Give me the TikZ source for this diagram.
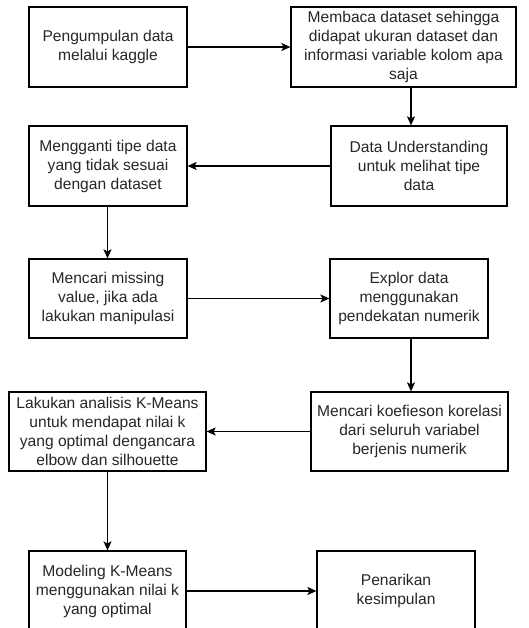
\documentclass[tikz,border=0pt]{standalone}
\usepackage{fontspec}
\setmainfont{Liberation Sans}
\usetikzlibrary{arrows.meta}
\begin{document}
\begin{tikzpicture}[x=1pt,y=-1pt,
  box/.style={draw=black, line width=1.2pt, rectangle, align=center, inner sep=0pt,
    font=\fontsize{15.6}{19}\selectfont, text=black!85},
  flow/.style={draw=black, line width=1.2pt, -{Stealth[length=9pt,width=8pt,inset=2pt]}}]
\path[use as bounding box, clip] (0,0) rectangle (529,628);
\node[box, minimum width=158pt, minimum height=80pt] (b1) at (108,47) {Pengumpulan data\\melalui kaggle};
\node[box, minimum width=225pt, minimum height=80pt] (b2) at (403.5,47) {Membaca dataset sehingga\\didapat ukuran dataset dan\\informasi variable kolom apa\\saja};
\node[box, minimum width=176pt, minimum height=80pt] (b3) at (419,166) {Data Understanding\\untuk melihat tipe\\data};
\node[box, minimum width=158pt, minimum height=80pt] (b4) at (108,166) {Mengganti tipe data\\yang tidak sesuai\\dengan dataset};
\node[box, minimum width=158pt, minimum height=79pt] (b5) at (108,298.5) {Mencari missing\\value, jika ada\\lakukan manipulasi};
\node[box, minimum width=158pt, minimum height=79pt] (b6) at (409,298.5) {Explor data\\menggunakan\\pendekatan numerik};
\node[box, minimum width=197pt, minimum height=79pt] (b7) at (409.5,431.5) {Mencari koefieson korelasi\\dari seluruh variabel\\berjenis numerik};
\node[box, minimum width=197pt, minimum height=79pt] (b8) at (107.5,431.5) {Lakukan analisis K-Means\\untuk mendapat nilai k\\yang optimal dengancara\\elbow dan silhouette};
\node[box, minimum width=157pt, minimum height=80pt] (b9) at (107.5,591) {Modeling K-Means\\menggunakan nilai k\\yang optimal};
\node[box, minimum width=158pt, minimum height=80pt] (b10) at (396,591) {Penarikan\\kesimpulan};
\coordinate (xa) at (411,0);
\coordinate (xb) at (107.5,0);
\draw[flow] (b1.east) -- (b2.west);
\draw[flow] (b2.south -| xa) -- (b3.north -| xa);
\draw[flow] (b3.west) -- (b4.east);
\draw[flow] (b4.south -| xb) -- (b5.north -| xb);
\draw[flow] (b5.east) -- (b6.west);
\draw[flow] (b6.south -| xa) -- (b7.north -| xa);
\draw[flow] (b7.west) -- (b8.east);
\draw[flow] (b8.south -| xb) -- (b9.north -| xb);
\draw[flow] (b9.east) -- (b10.west);
\end{tikzpicture}
\end{document}
